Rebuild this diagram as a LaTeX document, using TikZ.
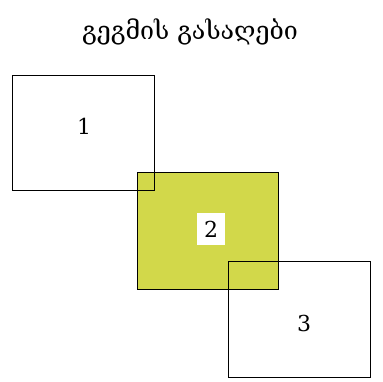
\documentclass[tikz,border=0pt]{standalone}
\usepackage{fontspec}
\setmainfont{DejaVu Serif}
\begin{document}
\begin{tikzpicture}[x=1pt,y=-1pt,
  keybox/.style={draw=black,line width=1pt},
  num/.style={font=\fontsize{22}{25}\selectfont,inner xsep=7pt,inner ysep=8pt}]
\useasboundingbox (0,0) rectangle (383,382);
\node[font=\fontsize{25}{28}\selectfont] (title) at (190,32) {გეგმის გასაღები};
\fill[fill={rgb,255:red,210;green,216;blue,74}] (137,173) rectangle (278,289);
\draw[keybox] (137,173) rectangle (278,289);
\draw[keybox] (12,76) rectangle (154,191);
\draw[keybox] (228,262) rectangle (370,377);
\node[num] (n1) at (84,126) {1};
\node[num,fill=white] (n2) at (211,229) {2};
\node[num] (n3) at (304,323) {3};
\end{tikzpicture}
\end{document}
